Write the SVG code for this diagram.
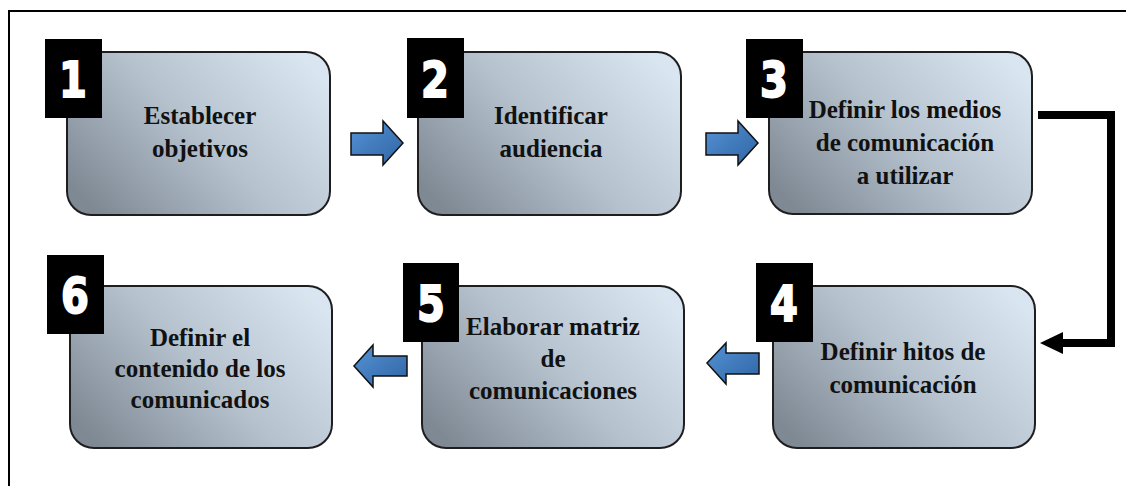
<svg xmlns="http://www.w3.org/2000/svg" width="1126" height="486" viewBox="0 0 1126 486">
<defs>
<linearGradient id="boxg" x1="0" y1="0.8" x2="1" y2="0.2">
<stop offset="0" stop-color="#7f8994"/>
<stop offset="0.5" stop-color="#b5c2ce"/>
<stop offset="1" stop-color="#d9e6f2"/>
</linearGradient>
<linearGradient id="arrg" x1="0" y1="0" x2="1" y2="1">
<stop offset="0" stop-color="#5593d6"/>
<stop offset="1" stop-color="#2f64a3"/>
</linearGradient>
<style>
.box{fill:url(#boxg);stroke:#1e1e1e;stroke-width:2}
.num{fill:#000}
.digit{font-family:'DejaVu Sans',sans-serif;font-weight:bold;font-size:50px;fill:#fff;stroke:#fff;stroke-width:2;text-anchor:middle}
.lbl{font-family:'Liberation Serif','DejaVu Serif',serif;font-weight:bold;font-size:25px;fill:#111;text-anchor:middle}
.arr{fill:url(#arrg);stroke:#111;stroke-width:1.5;stroke-linejoin:miter}
.conn{fill:none;stroke:#000;stroke-width:8}
</style>
</defs>
<rect x="0" y="0" width="1126" height="486" fill="#fff"/>
<path d="M9,486 V11 H1126" fill="none" stroke="#000" stroke-width="2"/>

<g id="node1">
<rect class="box" x="67" y="52" width="263" height="163" rx="24"/>
<rect class="num" x="45" y="39" width="57" height="79"/>
<text class="digit" x="73" y="97" transform="translate(73 0) scale(0.8 1) translate(-73 0)">1</text>
<text class="lbl" font-family="Liberation Serif, serif" x="200" y="124">Establecer</text>
<text class="lbl" font-family="Liberation Serif, serif" x="200" y="157">objetivos</text>
</g>
<g id="node2">
<rect class="box" x="418" y="52" width="263" height="163" rx="24"/>
<rect class="num" x="407" y="38" width="57" height="80"/>
<text class="digit" x="435" y="97" transform="translate(435 0) scale(0.8 1) translate(-435 0)">2</text>
<text class="lbl" font-family="Liberation Serif, serif" x="551" y="124">Identificar</text>
<text class="lbl" font-family="Liberation Serif, serif" x="551" y="157">audiencia</text>
</g>
<g id="node3">
<rect class="box" x="769" y="52" width="263" height="162" rx="24"/>
<rect class="num" x="746" y="39" width="57" height="79"/>
<text class="digit" x="774" y="97" transform="translate(774 0) scale(0.8 1) translate(-774 0)">3</text>
<text class="lbl" font-family="Liberation Serif, serif" x="905" y="118">Definir los medios</text>
<text class="lbl" font-family="Liberation Serif, serif" x="905" y="151">de comunicación</text>
<text class="lbl" font-family="Liberation Serif, serif" x="905" y="184">a utilizar</text>
</g>
<g id="node4">
<rect class="box" x="773" y="286" width="262" height="162" rx="24"/>
<rect class="num" x="756" y="263" width="57" height="79"/>
<text class="digit" x="784" y="321" transform="translate(784 0) scale(0.8 1) translate(-784 0)">4</text>
<text class="lbl" font-family="Liberation Serif, serif" x="903" y="360">Definir hitos de</text>
<text class="lbl" font-family="Liberation Serif, serif" x="903" y="393">comunicación</text>
</g>
<g id="node5">
<rect class="box" x="422" y="286" width="262" height="162" rx="24"/>
<rect class="num" x="403" y="263" width="56" height="79"/>
<text class="digit" x="431" y="321" transform="translate(431 0) scale(0.8 1) translate(-431 0)">5</text>
<text class="lbl" font-family="Liberation Serif, serif" x="553" y="335">Elaborar matriz</text>
<text class="lbl" font-family="Liberation Serif, serif" x="553" y="367">de</text>
<text class="lbl" font-family="Liberation Serif, serif" x="553" y="399">comunicaciones</text>
</g>
<g id="node6">
<rect class="box" x="70" y="286" width="262" height="162" rx="24"/>
<rect class="num" x="47" y="255" width="57" height="79"/>
<text class="digit" x="75" y="313" transform="translate(75 0) scale(0.8 1) translate(-75 0)">6</text>
<text class="lbl" font-family="Liberation Serif, serif" x="200" y="346">Definir el</text>
<text class="lbl" font-family="Liberation Serif, serif" x="200" y="377">contenido de los</text>
<text class="lbl" font-family="Liberation Serif, serif" x="200" y="408">comunicados</text>
</g>

<g id="connectors">
<polygon class="arr" points="351,133 383,133 383,121 403,143 383,165 383,155 351,155"/>
<polygon class="arr" points="706,133 738,133 738,121 758,143 738,165 738,155 706,155"/>
<polygon class="arr" points="759,353 726,353 726,343 707,363 726,384 726,374 759,374"/>
<polygon class="arr" points="407,356 373,356 373,345 354,366 373,387 373,376 407,376"/>
<polyline class="conn" points="1038,115 1111,115 1111,343 1060,343"/>
<polygon points="1040,343 1063,332 1063,354" fill="#000"/>
</g>
</svg>
